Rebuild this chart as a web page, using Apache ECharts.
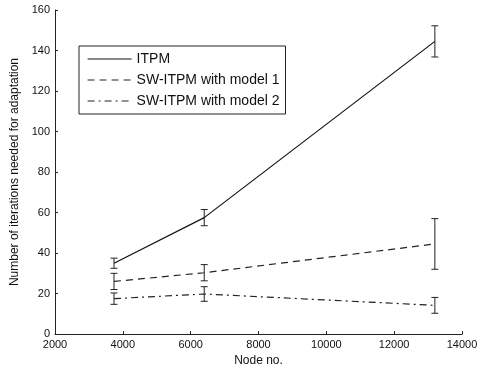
<!DOCTYPE html>
<html><head><meta charset="utf-8">
<script src="https://cdn.jsdelivr.net/npm/echarts@6/dist/echarts.min.js"></script>
<style>html,body{margin:0;padding:0;background:#fff}#c{width:482px;height:372px}</style>
</head><body><div id="c"></div>
<script>
var nodes = [3740, 6400, 13200];
var seriesNames = ['ITPM', 'SW-ITPM with model 1', 'SW-ITPM with model 2'];
var itpm = [35, 57.5, 144.5];
var itpmErr = [2.5, 4, 7.7];
var model1 = [26, 30.3, 44.5];
var model1Err = [4, 4, 12.5];
var model2 = [17.5, 19.8, 14.2];
var model2Err = [2.8, 3.6, 3.9];
var xTicks = [2000, 4000, 6000, 8000, 10000, 12000, 14000];
var yTicks = [0, 20, 40, 60, 80, 100, 120, 140, 160];

function pts(v){ return nodes.map(function(x,i){ return [x, v[i]]; }); }
function errData(v,e){ return nodes.map(function(x,i){ return [x, v[i]-e[i], v[i]+e[i]]; }); }
function errSeries(v,e){
  return {
    type:'custom', silent:true, z:3,
    renderItem:function(params, api){
      var x = api.value(0);
      var lo = api.coord([x, api.value(1)]);
      var hi = api.coord([x, api.value(2)]);
      var w = 3.5;
      var st = {stroke:'#222', lineWidth:1};
      return {type:'group', children:[
        {type:'line', shape:{x1:lo[0],y1:lo[1],x2:hi[0],y2:hi[1]}, style:st},
        {type:'line', shape:{x1:lo[0]-w,y1:lo[1],x2:lo[0]+w,y2:lo[1]}, style:st},
        {type:'line', shape:{x1:hi[0]-w,y1:hi[1],x2:hi[0]+w,y2:hi[1]}, style:st}
      ]};
    },
    data: errData(v,e)
  };
}
var font = 'Liberation Sans, Arial, sans-serif';
var chart = echarts.init(document.getElementById('c'));
chart.setOption({
  animation:false,
  backgroundColor:'#fff',
  grid:{left:55, right:20, top:10, bottom:36},
  legend:{
    orient:'vertical', left:79, top:46,
    data: seriesNames,
    itemWidth:44, itemHeight:14, itemGap:7,
    padding:[6,6,6,8],
    borderColor:'#222', borderWidth:1,
    itemStyle:{opacity:0},
    lineStyle:{width:1.2},
    textStyle:{fontFamily:font, fontSize:14, color:'#111'}
  },
  xAxis:{
    type:'value', min:2000, max:14000, interval:2000,
    name:'Node no.', nameLocation:'middle', nameGap:17,
    nameTextStyle:{fontFamily:font, fontSize:12, color:'#111'},
    axisLine:{lineStyle:{color:'#222'}},
    axisTick:{inside:true, length:3, lineStyle:{color:'#222'}},
    axisLabel:{fontFamily:font, fontSize:11, color:'#111', margin:5, formatter:function(v){return String(v);}},
    splitLine:{show:false}
  },
  yAxis:{
    type:'value', min:0, max:160, interval:20,
    name:'Number of iterations needed for adaptation', nameLocation:'middle', nameGap:33,
    nameTextStyle:{fontFamily:font, fontSize:12, color:'#111'},
    axisLine:{show:true, lineStyle:{color:'#222'}},
    axisTick:{show:true, inside:true, length:3, lineStyle:{color:'#222'}},
    axisLabel:{fontFamily:font, fontSize:11, color:'#111', margin:5},
    splitLine:{show:false}
  },
  series:[
    {name:seriesNames[0], type:'line', symbol:'none', data:pts(itpm), lineStyle:{color:'#111', width:1.2, type:'solid'}, itemStyle:{color:'#111'}},
    {name:seriesNames[1], type:'line', symbol:'none', data:pts(model1), lineStyle:{color:'#222', width:1.2, type:[7,5]}, itemStyle:{color:'#222'}},
    {name:seriesNames[2], type:'line', symbol:'none', data:pts(model2), lineStyle:{color:'#222', width:1.2, type:[7,4,2,4]}, itemStyle:{color:'#222'}},
    errSeries(itpm, itpmErr),
    errSeries(model1, model1Err),
    errSeries(model2, model2Err)
  ]
});
</script></body></html>
